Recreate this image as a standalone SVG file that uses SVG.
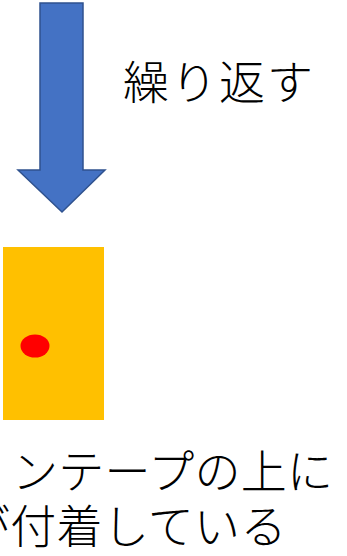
<svg xmlns="http://www.w3.org/2000/svg" width="347" height="556" viewBox="0 0 347 556">
<style>
.t{font-family:"Noto Sans CJK JP","Noto Sans CJK SC",sans-serif;fill:#000;font-size:46px;font-weight:300;letter-spacing:0.3px;}
</style>
<rect width="347" height="556" fill="#fff"/>
<g id="arrow">
<polygon points="40,3 83,3 83,170 105,170 62,212 18,170 40,170" fill="#4472C4" stroke="#2F528F" stroke-width="1.5"/>
</g>
<g id="label-repeat">
<text class="t" x="123" y="99" style="letter-spacing:2px">繰り返す</text>
</g>
<g id="tape">
<rect x="3" y="247" width="101" height="173" fill="#FFC000"/>
<ellipse cx="35" cy="346" rx="14.5" ry="11.5" fill="#FF0000"/>
</g>
<g id="caption">
<text class="t" x="12" y="488">ンテープの上に</text>
<text class="t" x="-36" y="543">が付着している</text>
</g>
</svg>
